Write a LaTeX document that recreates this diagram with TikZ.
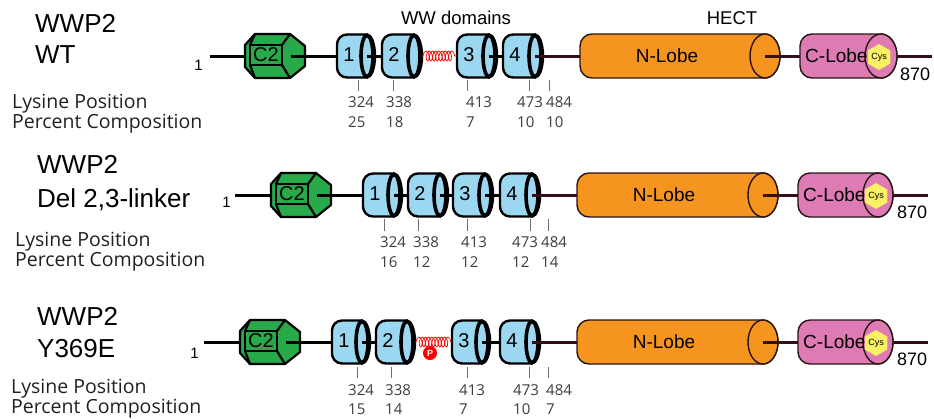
\documentclass[tikz,border=0pt]{standalone}
\usepackage{fontspec}
\setmainfont{Liberation Sans}
\newfontfamily\myrfont{Open Sans}
\usetikzlibrary{decorations.pathmorphing,shapes.geometric}
\definecolor{wwblue}{RGB}{155,215,240}
\definecolor{c2green}{RGB}{40,170,75}
\definecolor{nlobe}{RGB}{246,148,32}
\definecolor{clobe}{RGB}{222,122,180}
\definecolor{cysyel}{RGB}{250,240,100}
\definecolor{bbmaroon}{RGB}{50,15,20}
\definecolor{lobedark}{RGB}{40,20,20}
\definecolor{tickgray}{RGB}{110,110,110}
\definecolor{numgray}{RGB}{60,60,60}
\definecolor{txtdark}{RGB}{35,31,32}

% WW domain cylinder: name, x0, x1, y, label
\newcommand{\wwdom}[5]{%
  \pgfmathsetmacro{\wwxc}{#3-8}%
  \draw[domline, fill=wwblue] (\wwxc,{#4-21.5}) -- ({#2+10},{#4-21.5})
     arc[start angle=90,end angle=180,radius=10pt] -- (#2,{#4+11.5})
     arc[start angle=180,end angle=270,radius=10pt] -- (\wwxc,{#4+21.5})
     arc[start angle=-90,end angle=90,x radius=8pt,y radius=21.5pt] -- cycle;
  \draw[line width=3.6pt, fill=wwblue] (\wwxc,#4) ellipse[x radius=6pt,y radius=20.7pt];
  \node[domnum] at ({#2+12},{#4-1}) {#5};
  \coordinate (#1-w) at (#2,#4);
  \coordinate (#1-c) at (\wwxc,#4);
  \coordinate (#1-e) at (#3,#4);}

% HECT lobe cylinder: name, x0, x1, y, rx, colour
\newcommand{\hectlobe}[6]{%
  \pgfmathsetmacro{\lbxc}{#3-#5}%
  \draw[lobeline, fill=#6] (\lbxc,{#4-22}) -- ({#2+12},{#4-22})
     arc[start angle=90,end angle=180,radius=12pt] -- (#2,{#4+10})
     arc[start angle=180,end angle=270,radius=12pt] -- (\lbxc,{#4+22})
     arc[start angle=-90,end angle=90,x radius=#5pt,y radius=22pt] -- cycle;
  \draw[lobeline, fill=#6] (\lbxc,#4) ellipse[x radius=#5pt,y radius=22pt];
  \coordinate (#1-w) at (#2,#4);
  \coordinate (#1-c) at (\lbxc,#4);
  \coordinate (#1-e) at (#3,#4);}

% C2 domain: name, cx, cy
\newcommand{\ctwo}[3]{%
  \begin{scope}[shift={(#2,#3)}]
    \draw[c2line, fill=c2green] (-30,-11) -- (-20,-22) -- (15,-22) -- (30,-10) -- (30,10) -- (15,22) -- (-20,22) -- (-30,11) -- cycle;
    \draw[c2line] (-25,-11) rectangle (7,9);
    \draw[c2line] (-25,-11) -- (-20,-22) (7,-11) -- (15,-22) (7,9) -- (15,22) (-25,9) -- (-20,22);
    \node[c2txt] at (-9,-1) {C2};
    \coordinate (#1-w) at (-30,0);
    \coordinate (#1-c) at (16,0);
  \end{scope}}

\begin{document}
\begin{tikzpicture}[x=1pt,y=-1pt,
  bb/.style={line width=3pt, draw=black},
  bbm/.style={line width=3pt, draw=bbmaroon},
  domline/.style={line width=2.4pt, draw=black},
  lobeline/.style={line width=1.4pt, draw=lobedark},
  c2line/.style={line width=2.2pt, draw=black, line join=round},
  spring/.style={draw=red, line width=0.7pt, decorate,
     decoration={coil, amplitude=5pt, segment length=3.2pt, aspect=0.45, pre length=1pt, post length=1pt}},
  ttl/.style={font=\fontsize{26}{30}\selectfont, inner sep=0pt, anchor=base west, text=black},
  hdr/.style={font=\fontsize{18.5}{22}\selectfont, inner sep=0pt, anchor=base},
  lys/.style={font=\myrfont\fontsize{19.5}{23}\selectfont, inner sep=0pt, anchor=base west, text=txtdark},
  tnum/.style={font=\myrfont\fontsize{15}{18}\selectfont, inner sep=0pt, anchor=base west, text=numgray},
  tk/.style={draw=tickgray, line width=0.9pt},
  domnum/.style={font=\fontsize{20}{24}\selectfont, inner sep=0pt},
  c2txt/.style={font=\fontsize{20}{24}\selectfont, inner sep=0pt},
  lobetxt/.style={font=\fontsize{19}{23}\selectfont, inner sep=0pt},
  endnum/.style={font=\fontsize{18}{22}\selectfont, inner sep=0pt, anchor=base west},
  onenum/.style={font=\fontsize{15}{18}\selectfont, inner sep=0pt, anchor=base east},
  cys/.style={regular polygon, regular polygon sides=6, shape border rotate=30, minimum size=26pt, fill=cysyel, inner sep=0pt, font=\fontsize{9}{10}\selectfont},
  pcirc/.style={circle, fill=red, minimum size=14pt, inner sep=0pt, text=white, font=\fontsize{9}{10}\selectfont\bfseries},
]
\useasboundingbox (0,0) rectangle (934,418);

% headers
\node[hdr] (hww) at (456,24) {WW domains};
\node[hdr] (hhect) at (732,24) {HECT};

% ================= Row 1: WT =================
\node[ttl] (r1t1) at (35,32) {WWP2};
\node[ttl] (r1t2) at (35,63) {WT};
\node[lys] (r1l1) at (12,108) {Lysine Position};
\node[lys] (r1l2) at (12,128) {Percent Composition};

\ctwo{r1c2}{275}{56}
\wwdom{r1d1}{337}{375}{56}{1}
\wwdom{r1d2}{382}{422}{56}{2}
\wwdom{r1d3}{457}{497}{56}{3}
\wwdom{r1d4}{503}{543}{56}{4}
\hectlobe{r1n}{580}{780}{56}{15}{nlobe}
\hectlobe{r1cl}{800}{897}{56}{16}{clobe}
\node[lobetxt] (r1ntxt) at (667,56) {N-Lobe};
\node[lobetxt, anchor=west] (r1ctxt) at (805,56) {C-Lobe};
\node[cys] (r1cys) at (879,57) {Cys};

\coordinate (r1s) at (210,56);
\coordinate (r1end) at (932,56);
\node[onenum] (r1one) at (203,70) {1};
\node[endnum] (r1870) at (900,80) {870};
\draw[bb] (r1s) -- (r1c2-w);
\draw[bb] (r1c2-c) -- (r1d1-w);
\draw[bb] (r1d1-c) -- (r1d2-w);
\draw[spring] (r1d2-e) -- (r1d3-w);
\draw[bb] (r1d3-c) -- (r1d4-w);
\draw[bbm] (r1d4-c) -- (r1n-w);
\draw[bbm] (r1n-c) -- (r1cl-w);
\draw[bbm] (r1cl-e) -- (r1end);

\foreach \tx/\lx/\pv/\pc [count=\k] in {358/348/324/25, 393/386/338/18, 467/466/413/7, 529/517/473/10, 549/546/484/10}{
  \coordinate (r1ta\k) at (\tx,80);
  \coordinate (r1tb\k) at (\tx,91);
  \draw[tk] (r1ta\k) -- (r1tb\k);
  \node[tnum] (r1pos\k) at (\lx,107) {\pv};
  \node[tnum] (r1pct\k) at (\lx,127) {\pc};
}

% ================= Row 2: Del 2,3-linker =================
\node[ttl] (r2t1) at (37,173) {WWP2};
\node[ttl] (r2t2) at (37,207) {Del 2,3-linker};
\node[lys] (r2l1) at (15,246) {Lysine Position};
\node[lys] (r2l2) at (15,266) {Percent Composition};

\ctwo{r2c2}{301}{195}
\wwdom{r2d1}{363}{402}{195}{1}
\wwdom{r2d2}{408}{448}{195}{2}
\wwdom{r2d3}{453}{493}{195}{3}
\wwdom{r2d4}{500}{540}{195}{4}
\hectlobe{r2n}{577}{778}{195}{15}{nlobe}
\hectlobe{r2cl}{798}{893}{195}{15}{clobe}
\node[lobetxt] (r2ntxt) at (664,195) {N-Lobe};
\node[lobetxt, anchor=west] (r2ctxt) at (803,195) {C-Lobe};
\node[cys] (r2cys) at (876,196) {Cys};

\coordinate (r2s) at (235,195);
\coordinate (r2end) at (928,195);
\node[onenum] (r2one) at (231,207) {1};
\node[endnum] (r2870) at (897,218) {870};
\draw[bb] (r2s) -- (r2c2-w);
\draw[bb] (r2c2-c) -- (r2d1-w);
\draw[bb] (r2d1-c) -- (r2d2-w);
\draw[bb] (r2d2-c) -- (r2d3-w);
\draw[bb] (r2d3-c) -- (r2d4-w);
\draw[bbm] (r2d4-c) -- (r2n-w);
\draw[bbm] (r2n-c) -- (r2cl-w);
\draw[bbm] (r2cl-e) -- (r2end);

\foreach \tx/\lx/\pv/\pc [count=\k] in {384/380/324/16, 418/413/338/12, 467/461/413/12, 530/512/473/12, 548/541/484/14}{
  \coordinate (r2ta\k) at (\tx,219);
  \coordinate (r2tb\k) at (\tx,231);
  \draw[tk] (r2ta\k) -- (r2tb\k);
  \node[tnum] (r2pos\k) at (\lx,247) {\pv};
  \node[tnum] (r2pct\k) at (\lx,267) {\pc};
}

% ================= Row 3: Y369E =================
\node[ttl] (r3t1) at (37,325) {WWP2};
\node[ttl] (r3t2) at (37,357) {Y369E};
\node[lys] (r3l1) at (11,393) {Lysine Position};
\node[lys] (r3l2) at (11,413) {Percent Composition};

\ctwo{r3c2}{270}{342}
\wwdom{r3d1}{332}{370}{342}{1}
\wwdom{r3d2}{376}{415}{342}{2}
\wwdom{r3d3}{452}{490}{342}{3}
\wwdom{r3d4}{500}{540}{342}{4}
\hectlobe{r3n}{577}{778}{342}{15}{nlobe}
\hectlobe{r3cl}{798}{893}{342}{15}{clobe}
\node[lobetxt] (r3ntxt) at (664,342) {N-Lobe};
\node[lobetxt, anchor=west] (r3ctxt) at (803,342) {C-Lobe};
\node[cys] (r3cys) at (876,343) {Cys};

\coordinate (r3s) at (204,342);
\coordinate (r3end) at (928,342);
\node[onenum] (r3one) at (199,358) {1};
\node[endnum] (r3870) at (897,365) {870};
\draw[bb] (r3s) -- (r3c2-w);
\draw[bb] (r3c2-c) -- (r3d1-w);
\draw[bb] (r3d1-c) -- (r3d2-w);
\draw[spring] (r3d2-e) -- (r3d3-w);
\draw[bb] (r3d3-c) -- (r3d4-w);
\draw[bbm] (r3d4-c) -- (r3n-w);
\draw[bbm] (r3n-c) -- (r3cl-w);
\draw[bbm] (r3cl-e) -- (r3end);
\node[pcirc] (r3p) at (430,353) {P};

\foreach \tx/\lx/\pv/\pc [count=\k] in {357/348/324/15, 391/385/338/14, 467/459/413/7, 529/513/473/10, 548/546/484/7}{
  \coordinate (r3ta\k) at (\tx,367);
  \coordinate (r3tb\k) at (\tx,378);
  \draw[tk] (r3ta\k) -- (r3tb\k);
  \node[tnum] (r3pos\k) at (\lx,395) {\pv};
  \node[tnum] (r3pct\k) at (\lx,414) {\pc};
}
\end{tikzpicture}
\end{document}
